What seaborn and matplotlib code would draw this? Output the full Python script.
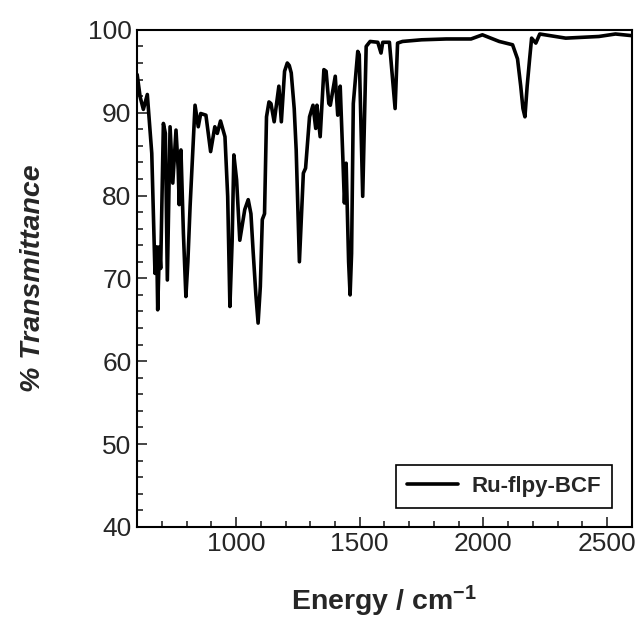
import matplotlib
matplotlib.use("Agg")
import matplotlib.pyplot as plt
from matplotlib.ticker import MultipleLocator
import pandas as pd
import seaborn as sns

# IR spectrum
wavenumber = [600, 612, 625, 641, 659, 672, 679, 683, 690, 695, 706, 714, 722, 733,
              744, 757, 766, 770, 777, 787, 797, 805, 814, 834, 847, 857, 878, 897,
              914, 924, 937, 955, 966, 975, 984, 991, 1002, 1015, 1035, 1049, 1060,
              1069, 1080, 1089, 1098, 1106, 1115, 1123, 1133, 1141, 1154, 1173, 1183,
              1196, 1207, 1215, 1223, 1235, 1243, 1256, 1272, 1281, 1297, 1311, 1322,
              1327, 1340, 1355, 1364, 1375, 1381, 1401, 1411, 1421, 1432, 1438, 1445,
              1455, 1461, 1467, 1474, 1492, 1498, 1512, 1526, 1542, 1573, 1586, 1593,
              1620, 1643, 1653, 1673, 1750, 1850, 1950, 1996, 2064, 2118, 2138, 2151,
              2160, 2168, 2177, 2187, 2195, 2212, 2228, 2333, 2467, 2534, 2600]
transmittance = [94.6, 91.9, 90.4, 92.2, 85.1, 70.6, 73.8, 66.2, 73.8, 71.2, 88.7, 87.5,
                 69.8, 88.3, 81.5, 87.9, 83.1, 78.9, 85.5, 75.4, 67.8, 72.0, 78.7, 90.9,
                 88.3, 89.9, 89.7, 85.3, 88.3, 87.5, 89.0, 87.1, 79.9, 66.6, 74.5, 84.9,
                 81.9, 74.6, 78.3, 79.5, 77.8, 73.2, 68.0, 64.6, 69.0, 77.1, 77.8, 89.5,
                 91.3, 91.1, 88.9, 93.2, 88.9, 95.0, 96.0, 95.7, 94.8, 90.5, 85.5, 72.0,
                 82.7, 83.3, 89.5, 90.9, 88.1, 90.9, 87.1, 95.2, 95.0, 91.1, 90.9, 94.4,
                 89.7, 93.2, 84.3, 79.1, 83.9, 72.0, 68.0, 73.0, 91.1, 97.4, 97.0, 79.9,
                 98.0, 98.6, 98.5, 97.2, 98.5, 98.5, 90.5, 98.4, 98.6, 98.8, 98.9, 98.9,
                 99.4, 98.6, 98.2, 96.5, 93.2, 90.5, 89.5, 93.2, 96.5, 99.0, 98.4, 99.5,
                 99.0, 99.2, 99.5, 99.3]
sample_name = "Ru-flpy-BCF"

df = pd.DataFrame({"Energy": wavenumber, "T": transmittance, "Sample": sample_name})

sns.set_style("ticks")
plt.rcParams["font.family"] = ["Liberation Sans", "DejaVu Sans"]
plt.rcParams["mathtext.fontset"] = "custom"
plt.rcParams["mathtext.bf"] = "Liberation Sans:bold"
plt.rcParams["mathtext.rm"] = "Liberation Sans:bold"
plt.rcParams["mathtext.default"] = "bf"

fig = plt.figure(figsize=(6.44, 6.22), dpi=100)
ax = fig.add_axes([0.213, 0.153, 0.768, 0.799])

sns.lineplot(data=df, x="Energy", y="T", hue="Sample", palette=["black"],
             linewidth=2.6, sort=False, ax=ax)

ax.set_xlim(600, 2600)
ax.set_ylim(40, 100)
ax.xaxis.set_major_locator(MultipleLocator(500))
ax.xaxis.set_minor_locator(MultipleLocator(100))
ax.yaxis.set_major_locator(MultipleLocator(10))
ax.yaxis.set_minor_locator(MultipleLocator(2))
ax.tick_params(axis="both", which="major", direction="in", length=7, width=1.2,
               labelsize=19, pad=4)
ax.tick_params(axis="both", which="minor", direction="in", length=4, width=1.2)
for s in ax.spines.values():
    s.set_linewidth(1.5)
    s.set_color("black")

ax.set_xlabel("Energy / cm$^{-1}$", fontsize=20.5, fontweight="bold", labelpad=20)
ax.set_ylabel("% Transmittance", fontsize=20.5, fontweight="bold", style="italic",
              labelpad=30)

leg = ax.legend(loc="lower right", fontsize=16, frameon=True, fancybox=False,
                handlelength=2.3, borderpad=0.5, handletextpad=0.6,
                borderaxespad=0, bbox_to_anchor=(0.96, 0.038))
for t in leg.get_texts():
    t.set_fontweight("bold")
leg.get_frame().set_edgecolor("black")
leg.get_frame().set_linewidth(1.2)
leg.get_frame().set_alpha(1)

plt.savefig("out.png", dpi=100)
plt.close()
